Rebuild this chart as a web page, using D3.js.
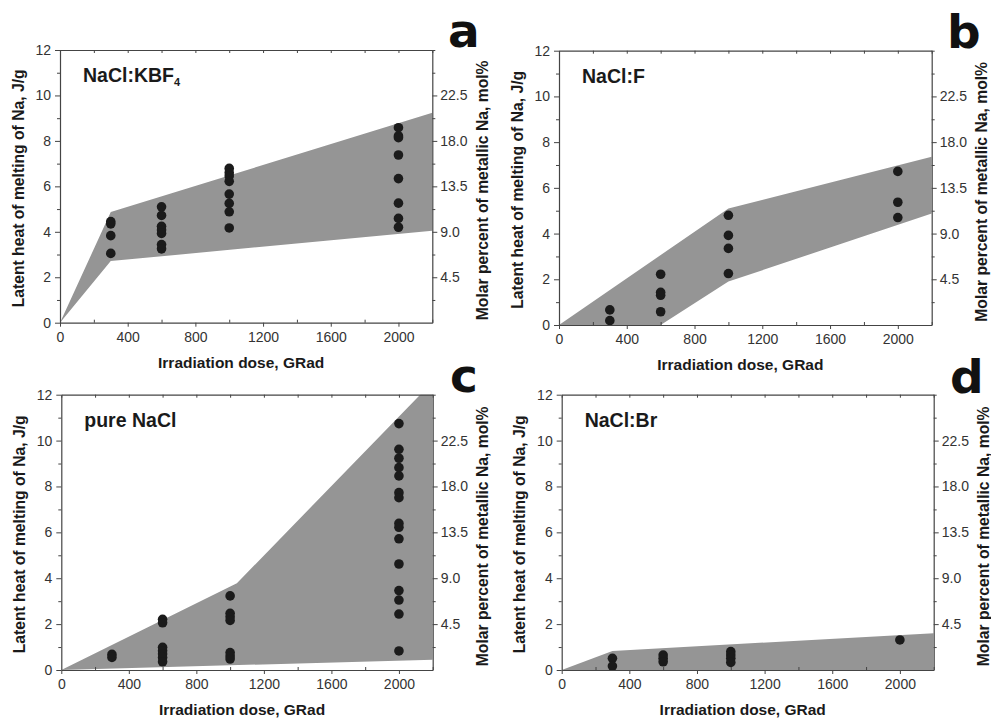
<!DOCTYPE html>
<html><head><meta charset="utf-8">
<script src="https://cdn.jsdelivr.net/npm/d3@7"></script>
<style>
body{margin:0;background:#fff;}
svg{display:block;}
text{font-family:"Liberation Sans",Arial,Helvetica,sans-serif;}
</style></head>
<body>
<svg id="chart" width="991" height="719"></svg>
<script>
// ---------- data ----------
const xTicks = [0, 400, 800, 1200, 1600, 2000];
const yTicks = [0, 2, 4, 6, 8, 10, 12];
const molTicks = [4.5, 9.0, 13.5, 18.0, 22.5];

// panel a: NaCl:KBF4
const aDose = [300,300,300,300, 600,600,600,600,600,600,600, 1000,1000,1000,1000,1000,1000,1000,1000, 2000,2000,2000,2000,2000,2000,2000,2000];
const aHeat = [4.45,4.35,3.83,3.05, 5.10,4.72,4.24,4.08,3.93,3.44,3.25, 6.79,6.60,6.45,6.22,5.66,5.25,4.88,4.17, 8.58,8.22,8.14,7.38,6.34,5.26,4.59,4.20];
const aUpX = [0, 300, 2200], aUpY = [0, 4.87, 9.24];
const aLoX = [0, 300, 2200], aLoY = [0, 2.71, 4.05];

// panel b: NaCl:F
const bDose = [300,300, 600,600,600,600, 1000,1000,1000,1000, 2000,2000,2000];
const bHeat = [0.66,0.19, 2.22,1.43,1.30,0.58, 4.80,3.92,3.35,2.25, 6.72,5.37,4.70];
const bUpX = [0, 1000, 2200], bUpY = [0, 5.10, 7.36];
const bLoX = [0, 600, 1000, 2200], bLoY = [0, 0, 1.90, 4.88];

// panel c: pure NaCl
const cDose = [300,300, 600,600,600,600,600,600,600, 1000,1000,1000,1000,1000,1000,1000,
  2000,2000,2000,2000,2000,2000,2000,2000,2000,2000,2000,2000,2000,2000,2000];
const cHeat = [0.68,0.55, 2.21,2.06,0.99,0.84,0.70,0.54,0.36, 3.23,2.47,2.32,2.16,0.76,0.61,0.48,
  10.74,9.62,9.23,8.82,8.46,7.73,7.51,6.39,6.22,5.72,4.62,3.46,3.05,2.44,0.83];
const cUpX = [0, 1040, 2200], cUpY = [0, 3.78, 12.56];
const cLoX = [0, 2200], cLoY = [0, 0.45];

// panel d: NaCl:Br
const dDose = [300,300, 600,600,600, 1000,1000,1000,1000, 2000];
const dHeat = [0.51,0.17, 0.65,0.51,0.36, 0.80,0.65,0.51,0.33, 1.31];
const dUpX = [0, 300, 2200], dUpY = [0, 0.83, 1.60];
const dLoX = [0, 2200], dLoY = [0, 0];

const panels = [
  {letter:"a", title:"NaCl:KBF", sub:"4", dose:aDose, heat:aHeat, upX:aUpX, upY:aUpY, loX:aLoX, loY:aLoY,
   x0:60, x1:432.3, y0:50, y1:322.7, lx:448, ly:47},
  {letter:"b", title:"NaCl:F", sub:"", dose:bDose, heat:bHeat, upX:bUpX, upY:bUpY, loX:bLoX, loY:bLoY,
   x0:559, x1:931.7, y0:50.7, y1:325, lx:947, ly:48},
  {letter:"c", title:"pure NaCl", sub:"", dose:cDose, heat:cHeat, upX:cUpX, upY:cUpY, loX:cLoX, loY:cLoY,
   x0:61.3, x1:432.7, y0:394.7, y1:670, lx:450, ly:392},
  {letter:"d", title:"NaCl:Br", sub:"", dose:dDose, heat:dHeat, upX:dUpX, upY:dUpY, loX:dLoX, loY:dLoY,
   x0:561.7, x1:933.7, y0:394.7, y1:670, lx:950, ly:393}
];

const svg = d3.select("#chart");
const axisColor = "#444";

panels.forEach((p, i) => {
  const x = d3.scaleLinear().domain([0, 2200]).range([p.x0, p.x1]);
  const y = d3.scaleLinear().domain([0, 12]).range([p.y1, p.y0]);
  const yr = d3.scaleLinear().domain([0, 27]).range([p.y1, p.y0]);
  const g = svg.append("g");

  const clipId = "clip" + i;
  g.append("clipPath").attr("id", clipId).append("rect")
    .attr("x", p.x0).attr("y", p.y0).attr("width", p.x1 - p.x0).attr("height", p.y1 - p.y0);

  // band
  const pts = p.upX.map((v, k) => [x(v), y(p.upY[k])])
    .concat(p.loX.map((v, k) => [x(v), y(p.loY[k])]).reverse());
  g.append("path").attr("clip-path", `url(#${clipId})`)
    .attr("d", "M" + pts.map(q => q.join(",")).join("L") + "Z")
    .attr("fill", "#959595");

  // points
  g.append("g").selectAll("circle").data(p.dose).join("circle")
    .attr("cx", d => x(d)).attr("cy", (d, k) => y(p.heat[k])).attr("r", 4.8)
    .attr("fill", "#1b1b1b");

  // axes
  const styleAxis = sel => {
    sel.select(".domain").attr("stroke", axisColor).attr("stroke-width", 1.2);
    sel.selectAll(".tick line").attr("stroke", axisColor).attr("stroke-width", 1);
    sel.selectAll(".tick text").attr("fill", "#333").style("font-size", "14px")
      .style("font-family", '"Liberation Sans",Arial,sans-serif');
  };
  const minorX = d3.range(200, 2201, 400);
  const minorY = d3.range(1, 12, 2);

  // bottom
  g.append("g").attr("transform", `translate(0,${p.y1})`)
    .call(d3.axisBottom(x).tickValues(xTicks).tickSizeInner(4).tickSizeOuter(0).tickPadding(5).tickFormat(d3.format("d")))
    .call(styleAxis);
  g.append("g").attr("transform", `translate(0,${p.y1})`)
    .call(d3.axisBottom(x).tickValues(minorX).tickSizeInner(-3).tickSizeOuter(0).tickFormat(""))
    .call(styleAxis).call(s => s.select(".domain").remove());
  // top
  g.append("g").attr("transform", `translate(0,${p.y0})`)
    .call(d3.axisTop(x).tickValues(xTicks.concat(minorX)).tickSizeInner(-3).tickSizeOuter(0).tickFormat(""))
    .call(styleAxis);
  // left
  g.append("g").attr("transform", `translate(${p.x0},0)`)
    .call(d3.axisLeft(y).tickValues(yTicks).tickSizeInner(5).tickSizeOuter(0).tickPadding(4).tickFormat(d3.format("d")))
    .call(styleAxis);
  g.append("g").attr("transform", `translate(${p.x0},0)`)
    .call(d3.axisLeft(y).tickValues(minorY).tickSizeInner(3).tickSizeOuter(0).tickFormat(""))
    .call(styleAxis).call(s => s.select(".domain").remove());
  // right
  g.append("g").attr("transform", `translate(${p.x1},0)`)
    .call(d3.axisRight(yr).tickValues(molTicks).tickSizeInner(5).tickSizeOuter(0).tickPadding(3).tickFormat(d3.format(".1f")))
    .call(styleAxis);
  g.append("g").attr("transform", `translate(${p.x1},0)`)
    .call(d3.axisRight(yr).tickValues(minorY.map(v => v * 2.25).concat([27])).tickSizeInner(3).tickSizeOuter(0).tickFormat(""))
    .call(styleAxis).call(s => s.select(".domain").remove());

  // axis titles
  const cx = (p.x0 + p.x1) / 2, cy = (p.y0 + p.y1) / 2;
  g.append("text").attr("x", cx - 5).attr("y", p.y1 + 45).attr("text-anchor", "middle")
    .style("font-size", "15.5px").style("font-weight", "bold").attr("fill", "#1a1a1a")
    .text("Irradiation dose, GRad");
  g.append("text").attr("transform", `translate(${p.x0 - 42},${cy + 2}) rotate(-90)`)
    .attr("text-anchor", "middle").attr("dy", "0.35em")
    .style("font-size", "15.7px").style("font-weight", "bold").attr("fill", "#1a1a1a")
    .text("Latent heat of melting of Na, J/g");
  g.append("text").attr("transform", `translate(${p.x1 + 50},${cy + 4}) rotate(-90)`)
    .attr("text-anchor", "middle").attr("dy", "0.35em")
    .style("font-size", "15.7px").style("font-weight", "bold").attr("fill", "#1a1a1a")
    .text("Molar percent of metallic Na, mol%");

  // panel title
  const t = g.append("text").attr("x", p.x0 + 23).attr("y", p.y0 + 32)
    .style("font-size", "19.5px").style("font-weight", "bold").attr("fill", "#1a1a1a")
    .text(p.title);
  if (p.sub) t.append("tspan").attr("dy", 4).style("font-size", "11px").text(p.sub);

  // panel letter
  g.append("text").attr("x", p.lx).attr("y", p.ly)
    .style("font-size", "47px").style("font-weight", "bold").attr("fill", "#111")
    .style("font-family", '"DejaVu Sans","Liberation Sans",sans-serif')
    .text(p.letter);
});
</script>
</body></html>
